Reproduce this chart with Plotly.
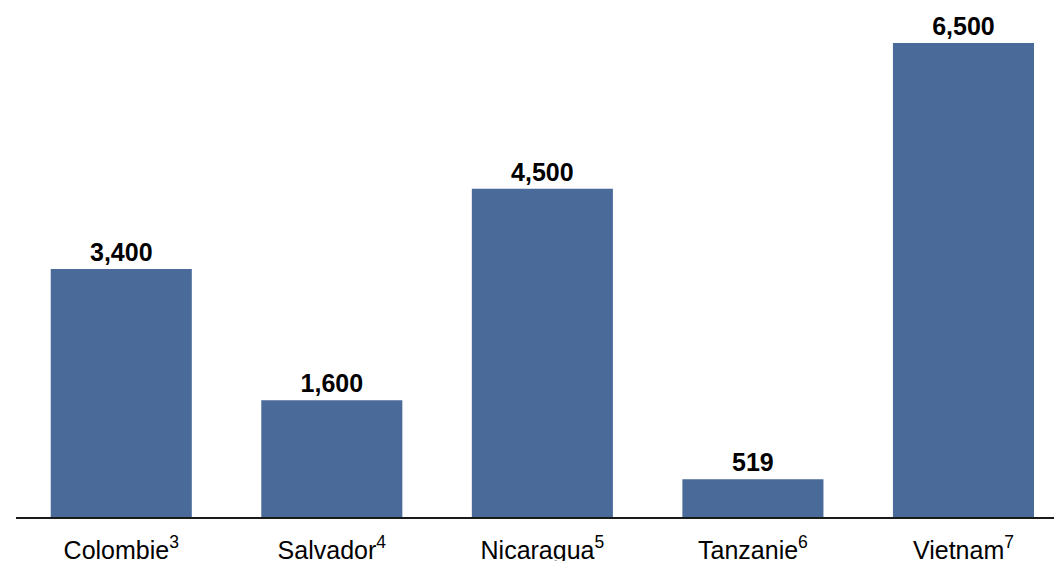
import plotly.graph_objects as go

# Values per country
countries = ["Colombie", "Salvador", "Nicaragua", "Tanzanie", "Vietnam"]
notes = ["3", "4", "5", "6", "7"]
values = [3400, 1600, 4500, 519, 6500]

labels = [f"{c}<sup>{n}</sup>" for c, n in zip(countries, notes)]

fig = go.Figure(
    go.Bar(
        x=labels,
        y=values,
        marker=dict(color="#4a6a9a", line=dict(width=0)),
        width=0.67,
        texttemplate="<b>%{y:,}</b>",
        textposition="outside",
        textfont=dict(family="Liberation Sans, Arial, sans-serif", size=25, color="#000000"),
        cliponaxis=False,
    )
)

fig.update_layout(
    width=1054,
    height=561,
    margin=dict(l=16, r=0, t=0, b=44),
    paper_bgcolor="white",
    plot_bgcolor="white",
    showlegend=False,
    font=dict(family="Liberation Sans, Arial, sans-serif", color="#000000"),
    xaxis=dict(
        range=[-0.5, 4.43],
        automargin=False,
        showline=True,
        linecolor="#1a1a1a",
        linewidth=1.5,
        ticks="",
        ticklabelstandoff=10,
        tickfont=dict(size=25, color="#000000"),
        showgrid=False,
    ),
    yaxis=dict(
        range=[0, 7090],
        visible=False,
        showgrid=False,
        zeroline=False,
    ),
)

fig.write_html("out.html")
